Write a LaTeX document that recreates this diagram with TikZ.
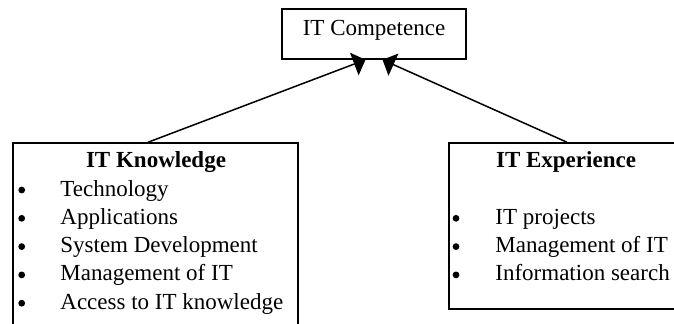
\documentclass[tikz,border=0pt]{standalone}
\usepackage{fontspec}
\setmainfont{Liberation Serif}
\usetikzlibrary{arrows.meta}
\begin{document}
\begin{tikzpicture}[x=0.5pt, y=-0.5pt,
  frame/.style={draw=black, line width=0.75pt, rectangle, inner sep=0pt},
  label/.style={inner sep=0pt, anchor=base west, font=\fontsize{11.5}{14}\selectfont},
  heading/.style={inner sep=0pt, anchor=base, font=\fontsize{11.5}{14}\selectfont\bfseries},
  dot/.style={circle, fill=black, inner sep=0pt, minimum size=3.4pt},
  link/.style={line width=0.75pt, -{Triangle[length=6pt, width=12pt]}}]
\clip (0,0) rectangle (674,323);
\fill[white] (0,0) rectangle (674,323);

% top box
\node[frame, minimum width=92pt, minimum height=25pt] (comp) at (374,34) {};
\node[inner sep=0pt, anchor=base, font=\fontsize{11.5}{14}\selectfont] (compt) at (374,35) {IT Competence};

% left box
\node[frame, minimum width=142.5pt, minimum height=101pt] (kn) at (155.5,244) {};
\node[heading] (knh) at (156,167.3) {IT Knowledge};
\foreach \i/\t in {0/Technology, 1/Applications, 2/System Development, 3/Management of IT, 4/Access to IT knowledge} {
  \node[dot] (kb\i) at (21.7,190+28.3*\i) {};
  \node[label] (kt\i) at (60,196+28.3*\i) {\t};
}

% right box
\node[frame, minimum width=115.5pt, minimum height=83pt] (ex) at (564.5,226) {};
\node[heading] (exh) at (566,167.3) {IT Experience};
\foreach \i/\t in {0/IT projects, 1/Management of IT, 2/Information search} {
  \node[dot] (eb\i) at (456,218.3+28.3*\i) {};
  \node[label] (et\i) at (495,224.3+28.3*\i) {\t};
}

% connectors
\draw[link] ([xshift=-3.75pt]kn.north) -- ([xshift=-4.25pt]comp.south);
\draw[link] ([xshift=1.25pt]ex.north) -- ([xshift=4.25pt]comp.south);
\end{tikzpicture}
\end{document}
